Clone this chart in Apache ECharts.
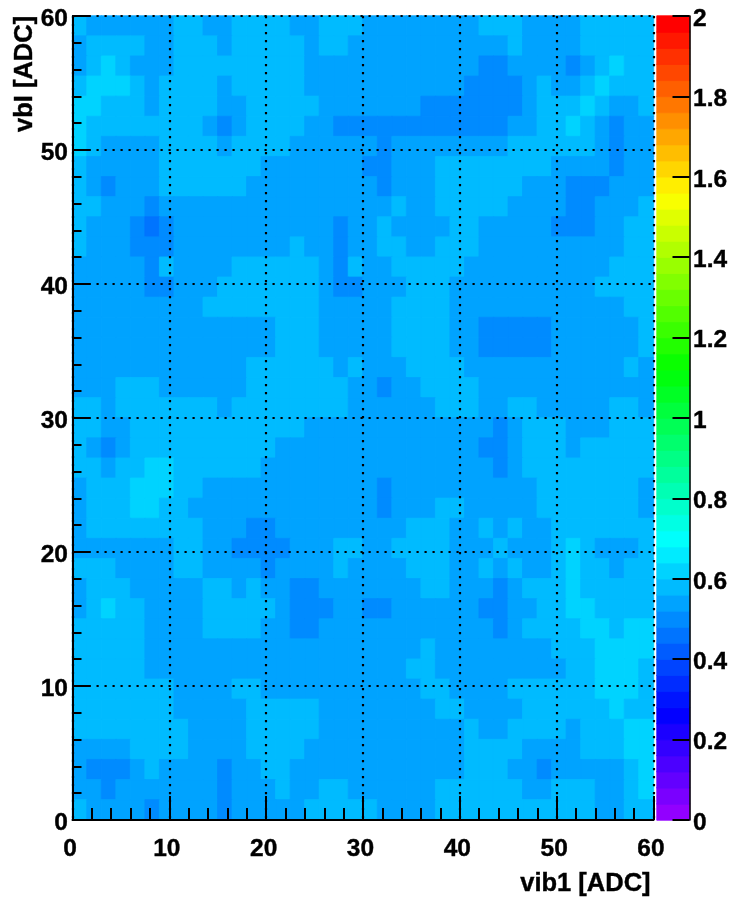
<!DOCTYPE html>
<html><head><meta charset="utf-8">
<style>html,body{margin:0;padding:0;background:#fff}#c{width:731px;height:898px}</style>
<script src="https://cdn.jsdelivr.net/npm/echarts@6/dist/echarts.min.js"></script>
</head><body><div id="c"></div>
<script>
// Each digit is one cell, left to right; rows from the top (vbI 58.5-60) downward.
const cellRows = [
"32222223322333322333"+"22222222333222233333",
"23333223332333332332"+"22222222223222233333",
"23432223333333332222"+"22222222112222123433",
"34443233332333332222"+"22222221111232234333",
"44333233332233333222"+"22221111111233343223",
"43333333321233332211"+"11111111112233432122",
"43222233332333322222"+"21222222223333332122",
"32222233333332222222"+"11222333333332222122",
"32122233333322222222"+"21222333333222111222",
"33222122222222222222"+"22322333332222112223",
"32221012222222222212"+"23222233222221112233",
"32221112222222232212"+"23322333222222222233",
"22222132222333333213"+"22333332222222222333",
"22222112223333333211"+"22233322222222223333",
"22222222233333333222"+"22333322222222222233",
"22222222222222333222"+"22333322111112222223",
"22222222222222333222"+"22333322111112222223",
"22222222222233333323"+"22233332222222222232",
"22233322222233333332"+"21223333222222222222",
"33233333332333333332"+"22222333223322222332",
"33223333333333332222"+"22222222212333222333",
"32123333333333222222"+"22222222112333233333",
"33233443333332222222"+"22222222212333333333",
"23334443322222222222"+"21222222222233333332",
"23334433222222222222"+"21222332222233333332",
"23333333322211222222"+"22233322323223333333",
"22222223322111122233"+"22333322232223432223",
"33322223322221222232"+"22233322323223433233",
"23332222233232211222"+"22223322212333433333",
"23433222233333211122"+"11222222112233443333",
"33333222233332211222"+"22222222212333344344",
"33333222222222222222"+"22223222222223334444",
"33333222222222222222"+"22233222222222334443",
"33333332222332222222"+"22223322223333334443",
"33333332222233333222"+"22222332222333333433",
"33333333222233333222"+"22222223223333233344",
"22223333222233332222"+"22222223333222233344",
"21112322221223322222"+"22222223332212222234",
"22122222221222322332"+"22222333333223332234",
"32222122221222223333"+"32222333333333332233"
];
// Value at the middle of the palette band that each digit stands for.
const levelValues = [0.46, 0.50, 0.54, 0.58, 0.62];
const xTicks = [0, 60, 10, 2];
const yTicks = [0, 60, 10, 2];
const zRange = [0, 2, 0.2];
const bandCount = 50;
const bandWidth = 0.04;
const xName = "vib1 [ADC]";
const yName = "vbI [ADC]";

const bandIndex = Array.from({length: bandCount}, (_, i) => i);
const palette = bandIndex.map(i => `hsl(${280 - (i + 1) * 5.6},100%,50%)`);
const colorOf = v => palette[Math.min(bandCount - 1, Math.floor(v / bandWidth))];
const cell = (x, y, v) => {
  const color = colorOf(v);
  return {value: [x, y, v], itemStyle: {color: color, borderColor: color, borderWidth: 0.8}};
};
const bins = cellRows[0].split("").map((_, i) => String(i));
const cells = [];
cellRows.forEach((row, r) => {
  row.split("").forEach((d, c) => {
    cells.push(cell(c, cellRows.length - 1 - r, levelValues[+d]));
  });
});
const bandNames = bandIndex.map(String);
const barCells = bandIndex.map(i => cell(0, i, (i + 0.5) * bandWidth));

const FONT = "Liberation Sans";
const labelStyle = {color: "#000", fontFamily: FONT, fontWeight: "bold", fontSize: 24.5, textBorderColor: "#000", textBorderWidth: 0.4};
const dotted = {color: "#000", width: 2.2, type: [2.2, 5.8]};

const chart = echarts.init(document.getElementById("c"), null, {renderer: "canvas"});
chart.setOption({
  animation: false,
  backgroundColor: "#fff",
  grid: [
    {left: 72.5, top: 16, width: 581, height: 804},
    {left: 657, top: 16, width: 32.5, height: 804}
  ],
  xAxis: [
    {type: "category", gridIndex: 0, position: "top", data: bins, z: 6,
     axisLine: {show: true, lineStyle: {color: "#333", width: 1}}, axisTick: {show: false}, axisLabel: {show: false}, splitLine: {show: false}},
    {type: "value", gridIndex: 0, position: "bottom", min: xTicks[0], max: xTicks[1], interval: xTicks[2], z: 6,
     axisLine: {show: true, lineStyle: {color: "#000", width: 2}},
     axisTick: {show: true, inside: true, length: 24, lineStyle: {color: "#000", width: 2}},
     minorTick: {show: true, splitNumber: xTicks[2] / xTicks[3], length: 12, lineStyle: {color: "#000", width: 2}},
     axisLabel: Object.assign({margin: 17, padding: [0, 5, 0, 0]}, labelStyle),
     splitLine: {show: true, lineStyle: dotted}},
    {type: "category", gridIndex: 1, data: ["palette"], show: false}
  ],
  yAxis: [
    {type: "category", gridIndex: 0, position: "right", data: bins, z: 6,
     axisLine: {show: true, lineStyle: {color: "#000", width: 1.5}}, axisTick: {show: false}, axisLabel: {show: false}, splitLine: {show: false}},
    {type: "value", gridIndex: 0, position: "left", min: yTicks[0], max: yTicks[1], interval: yTicks[2], z: 6,
     axisLine: {show: true, lineStyle: {color: "#000", width: 2}},
     axisTick: {show: true, inside: true, length: 18, lineStyle: {color: "#000", width: 2}},
     minorTick: {show: true, splitNumber: yTicks[2] / yTicks[3], length: 9, lineStyle: {color: "#000", width: 2}},
     axisLabel: Object.assign({margin: 4.5, verticalAlign: "top", lineHeight: 6}, labelStyle),
     splitLine: {show: true, lineStyle: dotted}},
    {type: "category", gridIndex: 1, data: bandNames, show: false},
    {type: "value", gridIndex: 1, position: "right", min: zRange[0], max: zRange[1], interval: zRange[2], z: 6,
     axisLine: {show: true, lineStyle: {color: "#000", width: 1.5}},
     axisTick: {show: true, inside: true, length: 17, lineStyle: {color: "#000", width: 2}},
     axisLabel: Object.assign({margin: 3.5, verticalAlign: "top", lineHeight: 6}, labelStyle),
     splitLine: {show: false}}
  ],
  series: [
    {type: "heatmap", xAxisIndex: 0, yAxisIndex: 0, data: cells, progressive: 0, z: 2},
    {type: "heatmap", xAxisIndex: 2, yAxisIndex: 2, data: barCells, progressive: 0, z: 2}
  ],
  graphic: [
    {type: "text", left: 520, top: 871, z: 10, style: {text: xName, font: "bold 25.5px " + FONT, fill: "#000", stroke: "#000", lineWidth: 0.4}},
    {type: "text", x: 12, y: 132, rotation: Math.PI / 2, z: 10, style: {text: yName, font: "bold 25.5px " + FONT, fill: "#000", stroke: "#000", lineWidth: 0.4}}
  ]
});
</script></body></html>
